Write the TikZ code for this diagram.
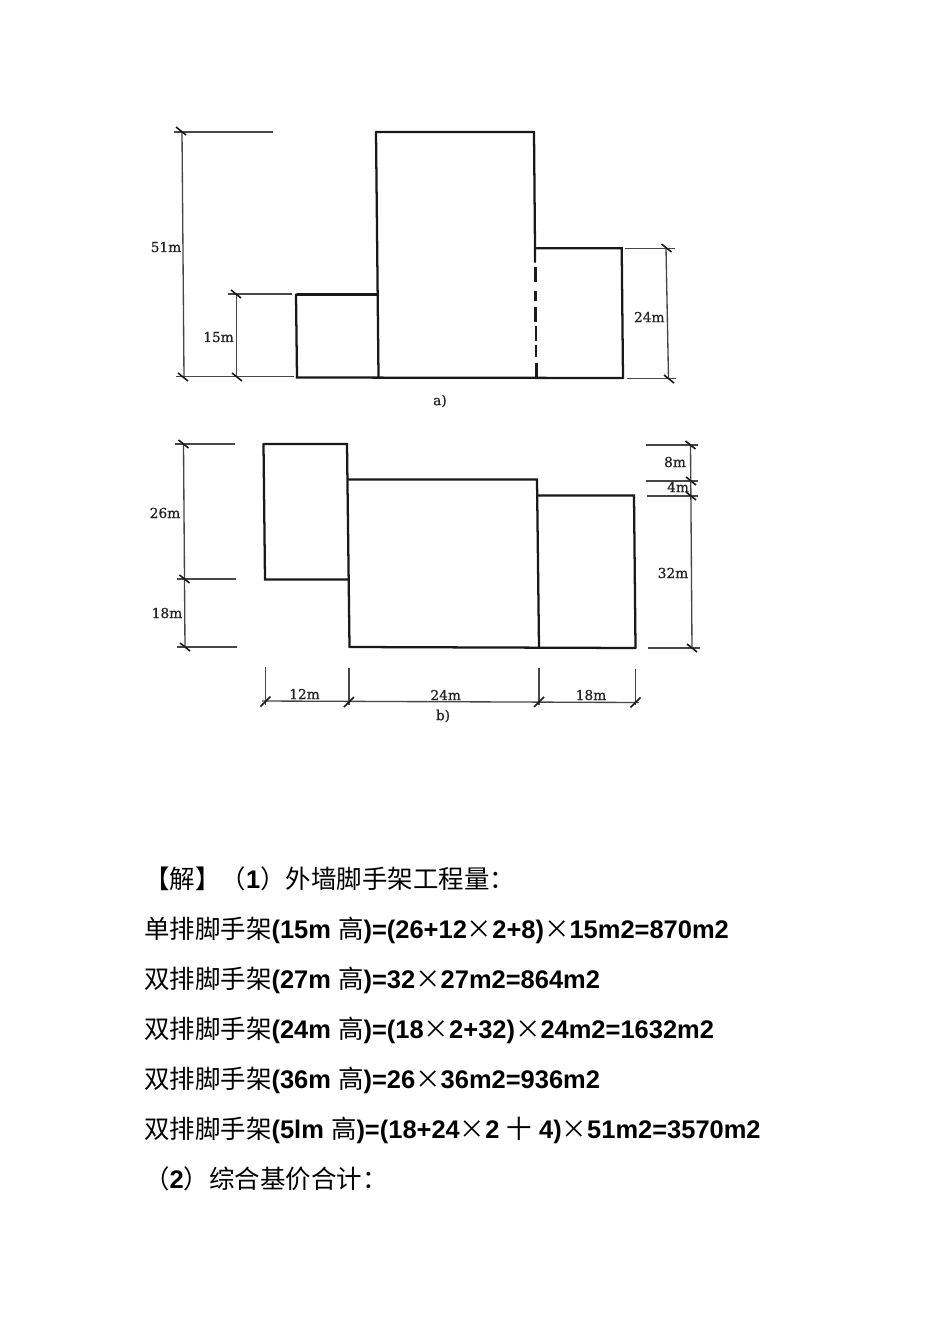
\documentclass[tikz,border=0pt]{standalone}
\usepackage{fontspec}
\setmainfont{Liberation Sans}
\newfontfamily\cjk{Noto Sans CJK SC}
\newfontfamily\dimfont[FakeBold=0.8]{DejaVu Serif}
\newcommand{\C}[1]{{\cjk\mdseries #1}}
\tikzset{
  x=0.75pt,y=-0.75pt,
  wall/.style={draw=black!90,line width=1.7pt,line cap=round},
  dashwall/.style={draw=black!90,line width=2pt},
  dimline/.style={draw=black!72,line width=1pt},
  tickmark/.style={draw=black!90,line width=1.2pt},
  dimlabel/.style={font=\dimfont\fontsize{10.3}{12}\selectfont,text=black!85,inner sep=0pt},
  solline/.style={anchor=base west,inner sep=0pt,font=\fontsize{19.1}{23}\selectfont\bfseries}
}
\newcommand{\tk}[2]{\draw[tickmark] (#1-5,#2-4) -- (#1+5,#2+4);}
\newcommand{\tkb}[2]{\draw[tickmark] (#1-5,#2+5) -- (#1+5,#2-5);}
\begin{document}
\begin{tikzpicture}
\useasboundingbox (0,0) rectangle (950,1344);
\fill[white] (0,0) rectangle (950,1344);
% figure a
\draw[wall] (376,132) -- (534,132) -- (535,248) -- (535,262);
\draw[wall] (376,132) -- (378.5,377);
\draw[wall] (297,294.5) -- (378,294.5);
\draw[wall] (296,294.5) -- (297,377.5) -- (623,378);
\draw[wall] (535,248.3) -- (621.7,248.3) -- (623,378);
\draw[dashwall] (535.5,267.5) -- (535.5,282);
\draw[dashwall] (535.7,291) -- (535.7,301);
\draw[dashwall] (535.8,307) -- (535.8,322);
\draw[dashwall] (536,326) -- (536,341);
\draw[dashwall] (536,345) -- (536,357);
\draw[dashwall] (536.3,363) -- (536.3,378);
\draw[dimline] (174,132) -- (273,132);
\draw[dimline] (176,376.5) -- (294,376.5);
\draw[dimline] (228,294) -- (292,294);
\draw[dimline] (182,132) -- (184,377);
\draw[dimline] (236.5,294) -- (236.5,377);
\tk{181}{131}\tk{183}{377}\tk{236}{294}\tk{237}{377}
\draw[dimline] (625,248.5) -- (675,248.5);
\draw[dimline] (627,378.5) -- (676,378.5);
\draw[dimline] (666,248) -- (668.5,379);
\tk{666.5}{248}\tk{669}{379}
\node[dimlabel] (l51) at (166,247) {51m};
\node[dimlabel] (l15a) at (218.5,337) {15m};
\node[dimlabel] (l24a) at (649.3,317) {24m};
\node[dimlabel] (la) at (440,401) {a)};
% figure b
\draw[wall] (263.5,444) -- (347,444) -- (349.5,647);
\draw[wall] (263.5,444) -- (265,579.5) -- (348,579.5);
\draw[wall] (348,479.5) -- (537,479.5) -- (539,647.5);
\draw[wall] (538,495.5) -- (634,495.5) -- (635.5,648);
\draw[wall] (349.5,647) -- (635.5,648);
\draw[dimline] (175,444) -- (235,444);
\draw[dimline] (177,579) -- (236,579);
\draw[dimline] (177,647) -- (237,647);
\draw[dimline] (183.5,444) -- (185,647);
\tk{183.5}{444}\tk{184.5}{579}\tk{185}{647}
\node[dimlabel] (l26) at (165,513) {26m};
\node[dimlabel] (l18) at (167,613) {18m};
\draw[dimline] (265.5,667) -- (265.5,705);
\draw[dimline] (349,668) -- (349,705);
\draw[dimline] (539,668) -- (539,705);
\draw[dimline] (635.5,669) -- (635.5,705);
\draw[dimline] (262,701) -- (639,702.5);
\tkb{265.5}{701.5}\tkb{349}{702}\tkb{539}{702}\tkb{635.5}{702.5}
\node[dimlabel] (l12) at (304.5,694) {12m};
\node[dimlabel] (l24b) at (445.7,695) {24m};
\node[dimlabel] (l18b) at (591,695) {18m};
\node[dimlabel] (lb) at (443,716) {b)};
\draw[dimline] (646,445) -- (698,445);
\draw[dimline] (646,481) -- (698,481);
\draw[dimline] (647,496) -- (698,496);
\draw[dimline] (648,648) -- (700,648);
\draw[dimline] (690.5,445) -- (692,648);
\tk{690.5}{445}\tk{691}{481}\tk{691}{496}\tk{692}{648}
\node[dimlabel] (l8) at (675,462) {8m};
\node[dimlabel] (l4) at (678,487) {4m};
\node[dimlabel] (l32) at (673,573) {32m};
% solution text
\node[solline] (s1) at (144,888) {\C{【解】（}1\C{）外墙脚手架工程量：}};
\node[solline] (s2) at (144,938) {\C{单排脚手架}(15m \C{高})=(26+12\C{×}2+8)\C{×}15m2=870m2};
\node[solline] (s3) at (144,988) {\C{双排脚手架}(27m \C{高})=32\C{×}27m2=864m2};
\node[solline] (s4) at (144,1038) {\C{双排脚手架}(24m \C{高})=(18\C{×}2+32)\C{×}24m2=1632m2};
\node[solline] (s5) at (144,1088) {\C{双排脚手架}(36m \C{高})=26\C{×}36m2=936m2};
\node[solline] (s6) at (144,1138) {\C{双排脚手架}(5lm \C{高})=(18+24\C{×}2 \C{十} 4)\C{×}51m2=3570m2};
\node[solline] (s7) at (144,1188) {\C{（}2\C{）综合基价合计：}};
\end{tikzpicture}
\end{document}
